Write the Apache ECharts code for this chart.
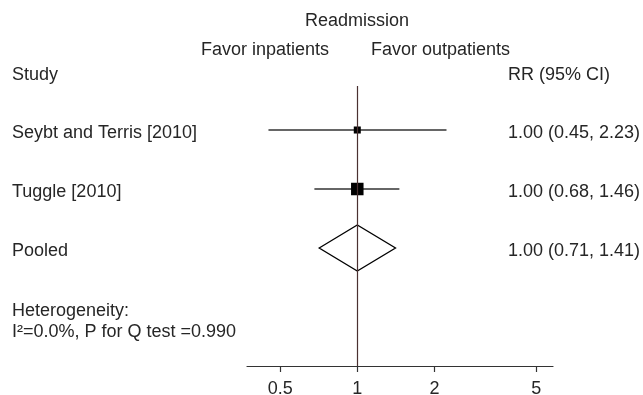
<!DOCTYPE html>
<html>
<head>
<meta charset="utf-8">
<script src="https://cdn.jsdelivr.net/npm/echarts@6/dist/echarts.min.js"></script>
<style>
html,body{margin:0;padding:0;background:#fff;}
#chart{width:643px;height:395px;}
</style>
</head>
<body>
<div id="chart"></div>
<script>
// ---- data ----
const studyNames = ['Seybt and Terris [2010]', 'Tuggle [2010]'];
const studyRR = [1.00, 1.00];
const studyLo = [0.45, 0.68];
const studyHi = [2.23, 1.46];
const studyWeight = [24, 76];
const pooledName = 'Pooled';
const pooledRR = 1.00;
const pooledLo = 0.71;
const pooledHi = 1.41;
const ciLabels = ['1.00 (0.45, 2.23)', '1.00 (0.68, 1.46)', '1.00 (0.71, 1.41)'];
const tickValues = [0.5, 1, 2, 5];
const axisRange = [0.371, 5.81];
const heterogeneity = ['Heterogeneity:', 'I\u00B2=0.0%, P for Q test =0.990'];
const titleText = 'Readmission';
const favorLeft = 'Favor inpatients';
const favorRight = 'Favor outpatients';
const colHeaders = ['Study', 'RR (95% CI)'];

const L = Math.log10;
const FONT = '"Liberation Sans", Arial, Helvetica, sans-serif';
const TXT = '#262626';

// rows: studies 0..n-1, pooled n
const rows = [];
studyNames.forEach((n, i) => rows.push([L(studyLo[i]), L(studyHi[i]), L(studyRR[i]), i, studyWeight[i], 0, n, ciLabels[i]]));
rows.push([L(pooledLo), L(pooledHi), L(pooledRR), studyNames.length, 100, 1, pooledName, ciLabels[studyNames.length]]);

const chart = echarts.init(document.getElementById('chart'), null, {renderer: 'canvas'});

function renderItem(params, api) {
  const r = rows[params.dataIndex];
  const y = api.coord([0, r[3]])[1];
  const xl = api.coord([r[0], r[3]])[0];
  const xh = api.coord([r[1], r[3]])[0];
  const xc = api.coord([r[2], r[3]])[0];
  const children = [];
  if (r[5] === 0) {
    children.push({type: 'line', shape: {x1: xl, y1: y, x2: xh, y2: y}, style: {stroke: '#333', lineWidth: 1.3}});
    const s = 1.434 * Math.sqrt(r[4]);
    children.push({type: 'rect', shape: {x: xc - s / 2, y: y - s / 2, width: s, height: s}, style: {fill: '#000'}});
  } else {
    const h = 23;
    children.push({type: 'polygon', shape: {points: [[xl, y], [xc, y - h], [xh, y], [xc, y + h]]}, style: {fill: 'rgba(255,255,255,0)', stroke: '#000', lineWidth: 1.3}});
  }
  children.push({type: 'text', x: 12, y: y + 3, style: {text: r[6], font: '18px ' + FONT, fill: TXT, textAlign: 'left', textVerticalAlign: 'middle'}});
  children.push({type: 'text', x: 508, y: y + 3, style: {text: r[7], font: '18px ' + FONT, fill: TXT, textAlign: 'left', textVerticalAlign: 'middle'}});
  return {type: 'group', children: children};
}

function gText(text, x, y, align) {
  return {type: 'text', x: x, y: y, style: {text: text, font: '18px ' + FONT, fill: TXT, textAlign: align, textVerticalAlign: 'middle'}};
}

chart.setOption({
  animation: false,
  backgroundColor: '#fff',
  grid: {left: 247, right: 90, top: 86, bottom: 29, containLabel: false, outerBoundsMode: 'none'},
  xAxis: {
    type: 'value',
    min: L(axisRange[0]),
    max: L(axisRange[1]),
    axisLine: {show: true, onZero: false, lineStyle: {color: '#333', width: 1.2}},
    axisTick: {show: true, length: 6, inside: false, customValues: tickValues.map(L), lineStyle: {color: '#333', width: 1.2}},
    axisLabel: {
      show: true, customValues: tickValues.map(L), margin: 14,
      fontSize: 18, fontFamily: FONT, color: TXT,
      formatter: v => String(+Math.pow(10, v).toFixed(2))
    },
    splitLine: {show: false}
  },
  yAxis: {
    type: 'value', min: -0.746, max: 4.0, inverse: true, show: false,
    splitLine: {show: false}
  },
  series: [{
    type: 'custom',
    renderItem: renderItem,
    data: rows.map(r => r.slice(0, 6)),
    clip: false,
    silent: true,
    markLine: {
      silent: true, symbol: 'none', animation: false,
      label: {show: false},
      lineStyle: {color: '#4a3030', width: 1.2, type: 'solid'},
      data: [{xAxis: L(1)}]
    }
  }],
  graphic: [
    gText(titleText, 357, 21, 'center'),
    gText(favorLeft, 329, 50, 'right'),
    gText(favorRight, 371, 50, 'left'),
    gText(colHeaders[0], 12, 75, 'left'),
    gText(colHeaders[1], 508, 75, 'left'),
    gText(heterogeneity[0], 12, 311, 'left'),
    gText(heterogeneity[1], 12, 332, 'left')
  ]
});
</script>
</body>
</html>
